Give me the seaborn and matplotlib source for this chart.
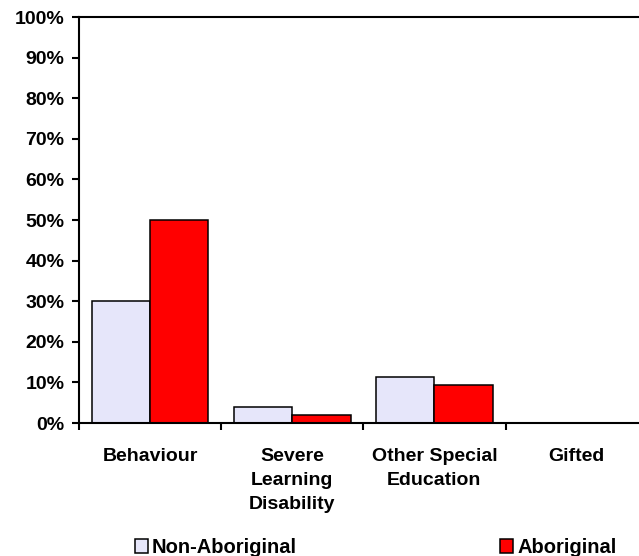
import matplotlib
matplotlib.use("Agg")
import matplotlib.pyplot as plt
import seaborn as sns
import pandas as pd
from matplotlib.patches import Patch
from matplotlib.ticker import FixedLocator, PercentFormatter

categories = ["Behaviour", "Severe\nLearning\nDisability", "Other Special\nEducation", "Gifted"]
groups = ["Non-Aboriginal", "Aboriginal"]
non_aboriginal = [30.0, 3.9, 11.3, 0.0]
aboriginal = [50.0, 1.9, 9.4, 0.0]
colors = ["#E6E6FA", "#FF0000"]

df = pd.DataFrame({
    "category": categories * 2,
    "group": [groups[0]] * len(categories) + [groups[1]] * len(categories),
    "value": non_aboriginal + aboriginal,
})

sns.set_style("white")
plt.rcParams["font.family"] = ["Liberation Sans", "DejaVu Sans"]
plt.rcParams["font.weight"] = "bold"
plt.rcParams["text.color"] = "black"
plt.rcParams["xtick.color"] = "black"
plt.rcParams["ytick.color"] = "black"

FS = 14

fig = plt.figure(figsize=(6.39, 5.56), dpi=100)
ax = fig.add_axes([0.1236, 0.2392, 0.89, 0.7302])

sns.barplot(data=df, x="category", y="value", hue="group", hue_order=groups,
            palette=colors, saturation=1, width=0.82, gap=0,
            edgecolor="black", linewidth=1.1, legend=False, ax=ax)

ax.set_xlim(-0.5, 3.5)
ax.set_ylim(0, 100)
ax.set_yticks(range(0, 101, 10))
ax.yaxis.set_major_formatter(PercentFormatter(decimals=0))
ax.set_xlabel("")
ax.set_ylabel("")

for side in ["left", "top", "bottom", "right"]:
    ax.spines[side].set_visible(True)
    ax.spines[side].set_color("black")
    ax.spines[side].set_linewidth(1.5)

ax.tick_params(axis="y", which="major", direction="out", length=5, width=1.5,
               color="black", labelcolor="black", labelsize=FS, pad=5.5, left=True)
ax.tick_params(axis="x", which="major", length=0, labelsize=FS,
               labelcolor="black", pad=18)
ax.xaxis.set_minor_locator(FixedLocator([-0.5, 0.5, 1.5, 2.5, 3.5]))
ax.tick_params(axis="x", which="minor", direction="out", length=5, width=1.5,
               color="black", bottom=True)
for lbl in ax.get_xticklabels():
    lbl.set_fontweight("bold")
    lbl.set_linespacing(1.55)
    lbl.set_verticalalignment("top")
for lbl in ax.get_yticklabels():
    lbl.set_fontweight("bold")

handles = [Patch(facecolor=c, edgecolor="black", linewidth=1.1) for c in colors]
fig.legend(handles, groups, loc="center left", bbox_to_anchor=(0.211, 0.016),
           ncol=2, frameon=False, prop={"weight": "bold", "size": 14.5},
           handlelength=0.65, handleheight=0.7, handletextpad=0.2,
           columnspacing=10.1, borderpad=0, borderaxespad=0)

fig.savefig("out.png", dpi=100)
